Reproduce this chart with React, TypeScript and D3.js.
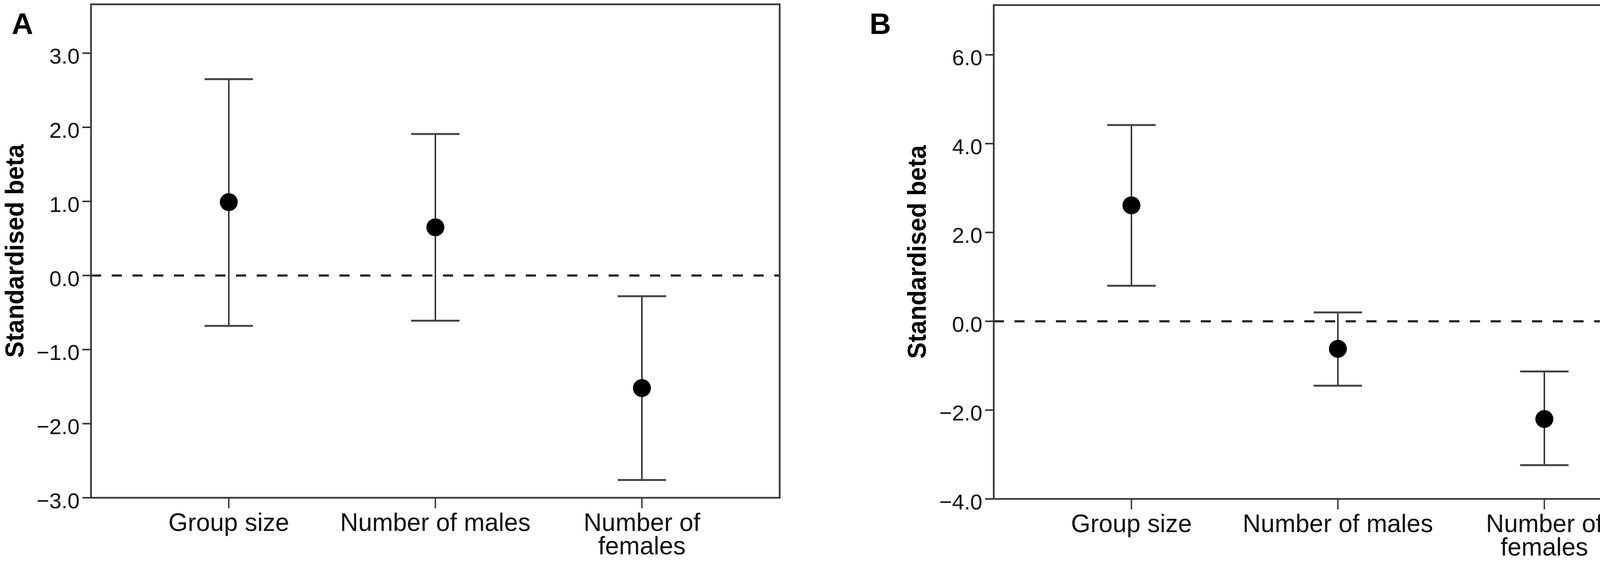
import React from "react";
import * as d3 from "d3";

const categories = ["Group size", "Number of males", "Number of females"];
const categoryLines = [["Group size"], ["Number of males"], ["Number of", "females"]];

const estA = [0.99, 0.65, -1.52];
const lowerA = [-0.68, -0.61, -2.76];
const upperA = [2.65, 1.91, -0.28];
const ticksA = [-3, -2, -1, 0, 1, 2, 3];
const domainA: [number, number] = [-3, 3.66];

const estB = [2.61, -0.62, -2.2];
const lowerB = [0.8, -1.45, -3.24];
const upperB = [4.42, 0.2, -1.13];
const ticksB = [-4, -2, 0, 2, 4, 6];
const domainB: [number, number] = [-4, 7.12];

const yTitle = "Standardised beta";

const fmt = (v: number) => d3.format(".1f")(v);

type PanelProps = {
  letter: string;
  letterX: number;
  left: number;
  right: number;
  top: number;
  bottom: number;
  domain: [number, number];
  ticks: number[];
  est: number[];
  lower: number[];
  upper: number[];
  titleX: number;
};

function Panel(p: PanelProps) {
  const x = d3.scalePoint<string>().domain(categories).range([p.left, p.right]).padding(0.667);
  const y = d3.scaleLinear().domain(p.domain).range([p.bottom, p.top]);
  const cap = 62;
  const font = "'Liberation Sans', Arial, sans-serif";
  return (
    <g>
      <text x={p.letterX} y={87} fontFamily={font} fontWeight="bold" fontSize={76} fill="#000">
        {p.letter}
      </text>
      {/* zero reference line */}
      <line
        x1={p.left}
        x2={p.right}
        y1={y(0)}
        y2={y(0)}
        stroke="#222"
        strokeWidth={5.5}
        strokeDasharray="26,27"
      />
      {/* error bars */}
      {categories.map((c, i) => {
        const cx = x(c) as number;
        return (
          <g key={c}>
            <line x1={cx} x2={cx} y1={y(p.upper[i])} y2={y(p.lower[i])} stroke="#222" strokeWidth={3.5} />
            <line x1={cx - cap} x2={cx + cap} y1={y(p.upper[i])} y2={y(p.upper[i])} stroke="#444" strokeWidth={5} />
            <line x1={cx - cap} x2={cx + cap} y1={y(p.lower[i])} y2={y(p.lower[i])} stroke="#444" strokeWidth={5} />
            <circle cx={cx} cy={y(p.est[i])} r={23} fill="#000" />
          </g>
        );
      })}
      {/* frame */}
      <rect
        x={p.left}
        y={p.top}
        width={p.right - p.left}
        height={p.bottom - p.top}
        fill="none"
        stroke="#3a3a3a"
        strokeWidth={4.5}
      />
      {/* y ticks */}
      {p.ticks.map((t) => (
        <g key={t}>
          <line x1={p.left - 22} x2={p.left} y1={y(t)} y2={y(t)} stroke="#333" strokeWidth={4} />
          <text
            x={p.left - 29}
            y={y(t) + 27}
            textAnchor="end"
            fontFamily={font}
            fontSize={56}
            fill="#111"
          >
            {fmt(t)}
          </text>
        </g>
      ))}
      {/* x ticks and labels */}
      {categories.map((c, i) => {
        const cx = x(c) as number;
        return (
          <g key={c}>
            <line x1={cx} x2={cx} y1={p.bottom} y2={p.bottom + 27} stroke="#333" strokeWidth={3.5} />
            <text
              x={cx}
              y={p.bottom + 85}
              textAnchor="middle"
              fontFamily={font}
              fontSize={64}
              fill="#111"
            >
              {categoryLines[i].map((ln, j) => (
                <tspan key={ln} x={cx} dy={j === 0 ? 0 : 60}>
                  {ln}
                </tspan>
              ))}
            </text>
          </g>
        );
      })}
      {/* y title */}
      <text
        transform={`translate(${p.titleX},${(p.top + p.bottom) / 2}) rotate(-90)`}
        textAnchor="middle"
        fontFamily={font}
        fontWeight="bold"
        fontSize={66}
        textLength={547}
        lengthAdjust="spacingAndGlyphs"
        fill="#000"
      >
        {yTitle}
      </text>
    </g>
  );
}

export default function App() {
  return (
    <svg
      width={4317}
      height={1437}
      viewBox="0 0 4317 1437"
      style={{ position: "absolute", left: 0, top: 0, background: "#fff" }}
    >
      <rect x={0} y={0} width={4317} height={1437} fill="#fff" />
      <Panel
        letter="A"
        letterX={30}
        left={233}
        right={1996}
        top={11}
        bottom={1275}
        domain={domainA}
        ticks={ticksA}
        est={estA}
        lower={lowerA}
        upper={upperA}
        titleX={60}
      />
      <Panel
        letter="B"
        letterX={2226}
        left={2544}
        right={4306}
        top={13}
        bottom={1278}
        domain={domainB}
        ticks={ticksB}
        est={estB}
        lower={lowerB}
        upper={upperB}
        titleX={2370}
      />
    </svg>
  );
}
